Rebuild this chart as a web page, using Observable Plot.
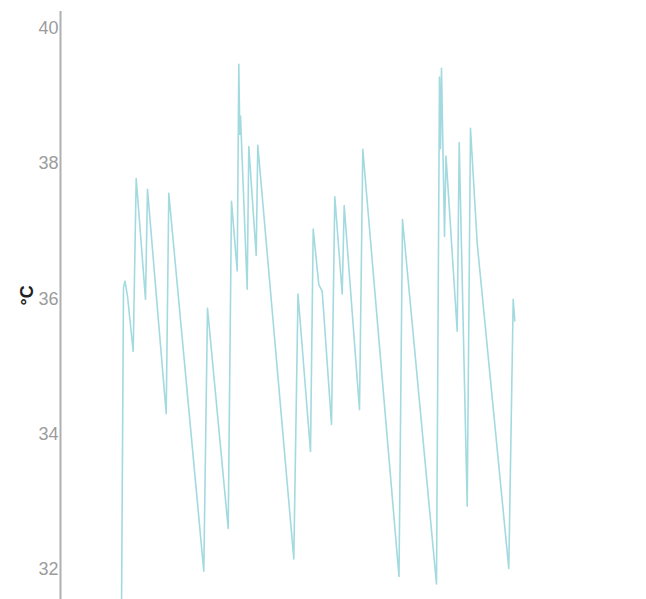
<!DOCTYPE html>
<html>
<head>
<meta charset="utf-8">
<script src="https://cdn.jsdelivr.net/npm/d3@7"></script>
<script src="https://cdn.jsdelivr.net/npm/@observablehq/plot@0.6"></script>
<style>
  html, body { margin: 0; padding: 0; background: #fff; }
  #chart svg { display: block; }
</style>
</head>
<body>
<div id="chart"></div>
<script>
// Elapsed time (hours) and measured temperature (°C)
const hours = [
  30.5, 31.5, 32.25, 33.5, 36.35, 37.85, 42.5, 43.5, 52.85, 54.15,
  71.65, 73.5, 83.85, 85.5, 88.35, 89.15, 89.65, 90, 93.35, 94.15,
  97.85, 98.65, 116.65, 118.75, 125, 126.35, 129.15, 130.85, 135.5, 137.15,
  140.85, 141.85, 149.5, 151.15, 169.25, 171, 188, 189.5, 190, 190.5,
  192, 192.75, 198.35, 199.35, 203.35, 205, 208.35, 224.15, 226.35, 227.15
];
const temperature = [
  31.38, 36.17, 36.26, 36.04, 35.22, 37.78, 35.99, 37.62, 34.30, 37.56,
  31.97, 35.86, 32.60, 37.44, 36.41, 39.47, 38.43, 38.70, 36.14, 38.25,
  36.64, 38.27, 32.15, 36.07, 33.74, 37.03, 36.21, 36.11, 34.14, 37.51,
  36.07, 37.38, 34.36, 38.21, 31.89, 37.17, 31.78, 39.28, 38.22, 39.41,
  36.92, 38.11, 35.52, 38.31, 32.93, 38.52, 36.82, 32.01, 35.99, 35.67
];
const yTicks = [32, 34, 36, 38, 40];
const unitLabel = "°C";

const readings = hours.map((h, i) => ({hour: h, temp: temperature[i]}));

const chart = Plot.plot({
  width: 646,
  height: 599,
  marginLeft: 60,
  marginRight: 0,
  marginTop: 11,
  marginBottom: 0,
  style: {fontFamily: "'Liberation Sans', Arial, sans-serif", background: "#fff"},
  x: {domain: [0, 293], axis: null},
  y: {domain: [31.55, 40.25]},
  marks: [
    Plot.axisY({
      ticks: yTicks,
      tickSize: 0,
      tickPadding: 2,
      fontSize: 18,
      color: "#9c9c9c",
      label: null
    }),
    Plot.ruleX([0], {stroke: "#b0b0b0", strokeWidth: 2}),
    Plot.line(readings, {
      x: "hour",
      y: "temp",
      stroke: "#a3dadf",
      strokeWidth: 1.6,
      clip: true
    }),
    Plot.text([unitLabel], {
      frameAnchor: "left",
      rotate: -90,
      dx: -33,
      fontSize: 18,
      fontWeight: "bold",
      fill: "#222"
    })
  ]
});

document.getElementById("chart").appendChild(chart);
</script>
</body>
</html>
